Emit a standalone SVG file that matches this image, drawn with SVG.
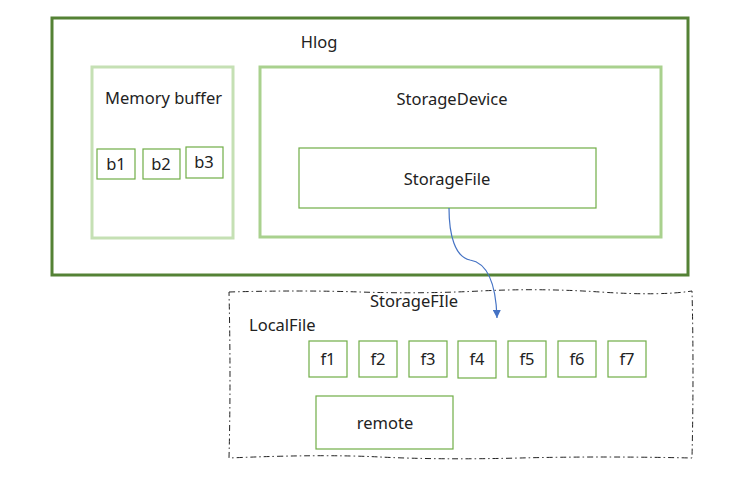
<svg xmlns="http://www.w3.org/2000/svg" width="752" height="492" viewBox="0 0 752 492">
<style>
text{font-family:"Noto Sans","Liberation Sans",sans-serif;font-size:16.5px;fill:#222}
.c{text-anchor:middle}
.bx{fill:#fff;stroke:#70ad47;stroke-width:1.2}
</style>
<defs>
<marker id="ah" viewBox="0 0 10 10" refX="10" refY="5" markerWidth="9" markerHeight="8" orient="auto" markerUnits="userSpaceOnUse">
<path d="M0,0 L10,5 L0,10 z" fill="#4472c4"/>
</marker>
</defs>
<rect width="752" height="492" fill="#fff"/>
<g id="hlog">
<rect x="52" y="18" width="636" height="257" fill="#fff" stroke="#548235" stroke-width="3"/>
<text class="c" x="319" y="48">Hlog</text>
</g>
<g id="memory-buffer">
<rect x="92" y="67" width="141" height="171" fill="#fff" stroke="#c5e0b4" stroke-width="3"/>
<text x="105" y="104">Memory buffer</text>
</g>
<g id="b1"><rect class="bx" x="97" y="149" width="38" height="30"/><text class="c" x="116" y="170">b1</text></g>
<g id="b2"><rect class="bx" x="143" y="149" width="37" height="30"/><text class="c" x="161" y="170">b2</text></g>
<g id="b3"><rect class="bx" x="186" y="147" width="37" height="31"/><text class="c" x="204" y="168">b3</text></g>
<g id="storage-device">
<rect x="260" y="67" width="401" height="170" fill="#fff" stroke="#a9d18e" stroke-width="3"/>
<text class="c" x="452" y="105">StorageDevice</text>
</g>
<g id="storage-file">
<rect class="bx" x="299" y="148" width="297" height="60"/>
<text class="c" x="447" y="185">StorageFile</text>
</g>
<g id="storage-file-local">
<path d="M229,292 Q300,290 360,292 T480,291 T600,292 T692,291 Q694,370 692,458 Q600,456 520,458 T380,457 T229,458 Q231,380 229,292 Z" fill="none" stroke="#222" stroke-width="1" stroke-dasharray="6,3,1.5,3"/>
<text class="c" x="414" y="307">StorageFIle</text>
<text x="249" y="331">LocalFile</text>
</g>
<g id="f1"><rect class="bx" x="309" y="341" width="38" height="36"/><text class="c" x="328" y="365">f1</text></g>
<g id="f2"><rect class="bx" x="359" y="341" width="38" height="36"/><text class="c" x="378" y="365">f2</text></g>
<g id="f3"><rect class="bx" x="409" y="341" width="38" height="36"/><text class="c" x="428" y="365">f3</text></g>
<g id="f4"><rect class="bx" x="458" y="341" width="38" height="37"/><text class="c" x="477" y="365">f4</text></g>
<g id="f5"><rect class="bx" x="508" y="341" width="38" height="36"/><text class="c" x="527" y="365">f5</text></g>
<g id="f6"><rect class="bx" x="558" y="341" width="38" height="36"/><text class="c" x="577" y="365">f6</text></g>
<g id="f7"><rect class="bx" x="608" y="341" width="38" height="36"/><text class="c" x="627" y="365">f7</text></g>
<g id="remote"><rect class="bx" x="316" y="396" width="137" height="53"/><text class="c" x="385" y="429">remote</text></g>
<g id="connectors">
<path d="M449,208 C449,235 455,257 470,260 C488,263 496,285 497,318" fill="none" stroke="#4472c4" stroke-width="1.2" marker-end="url(#ah)"/>
</g>
</svg>
